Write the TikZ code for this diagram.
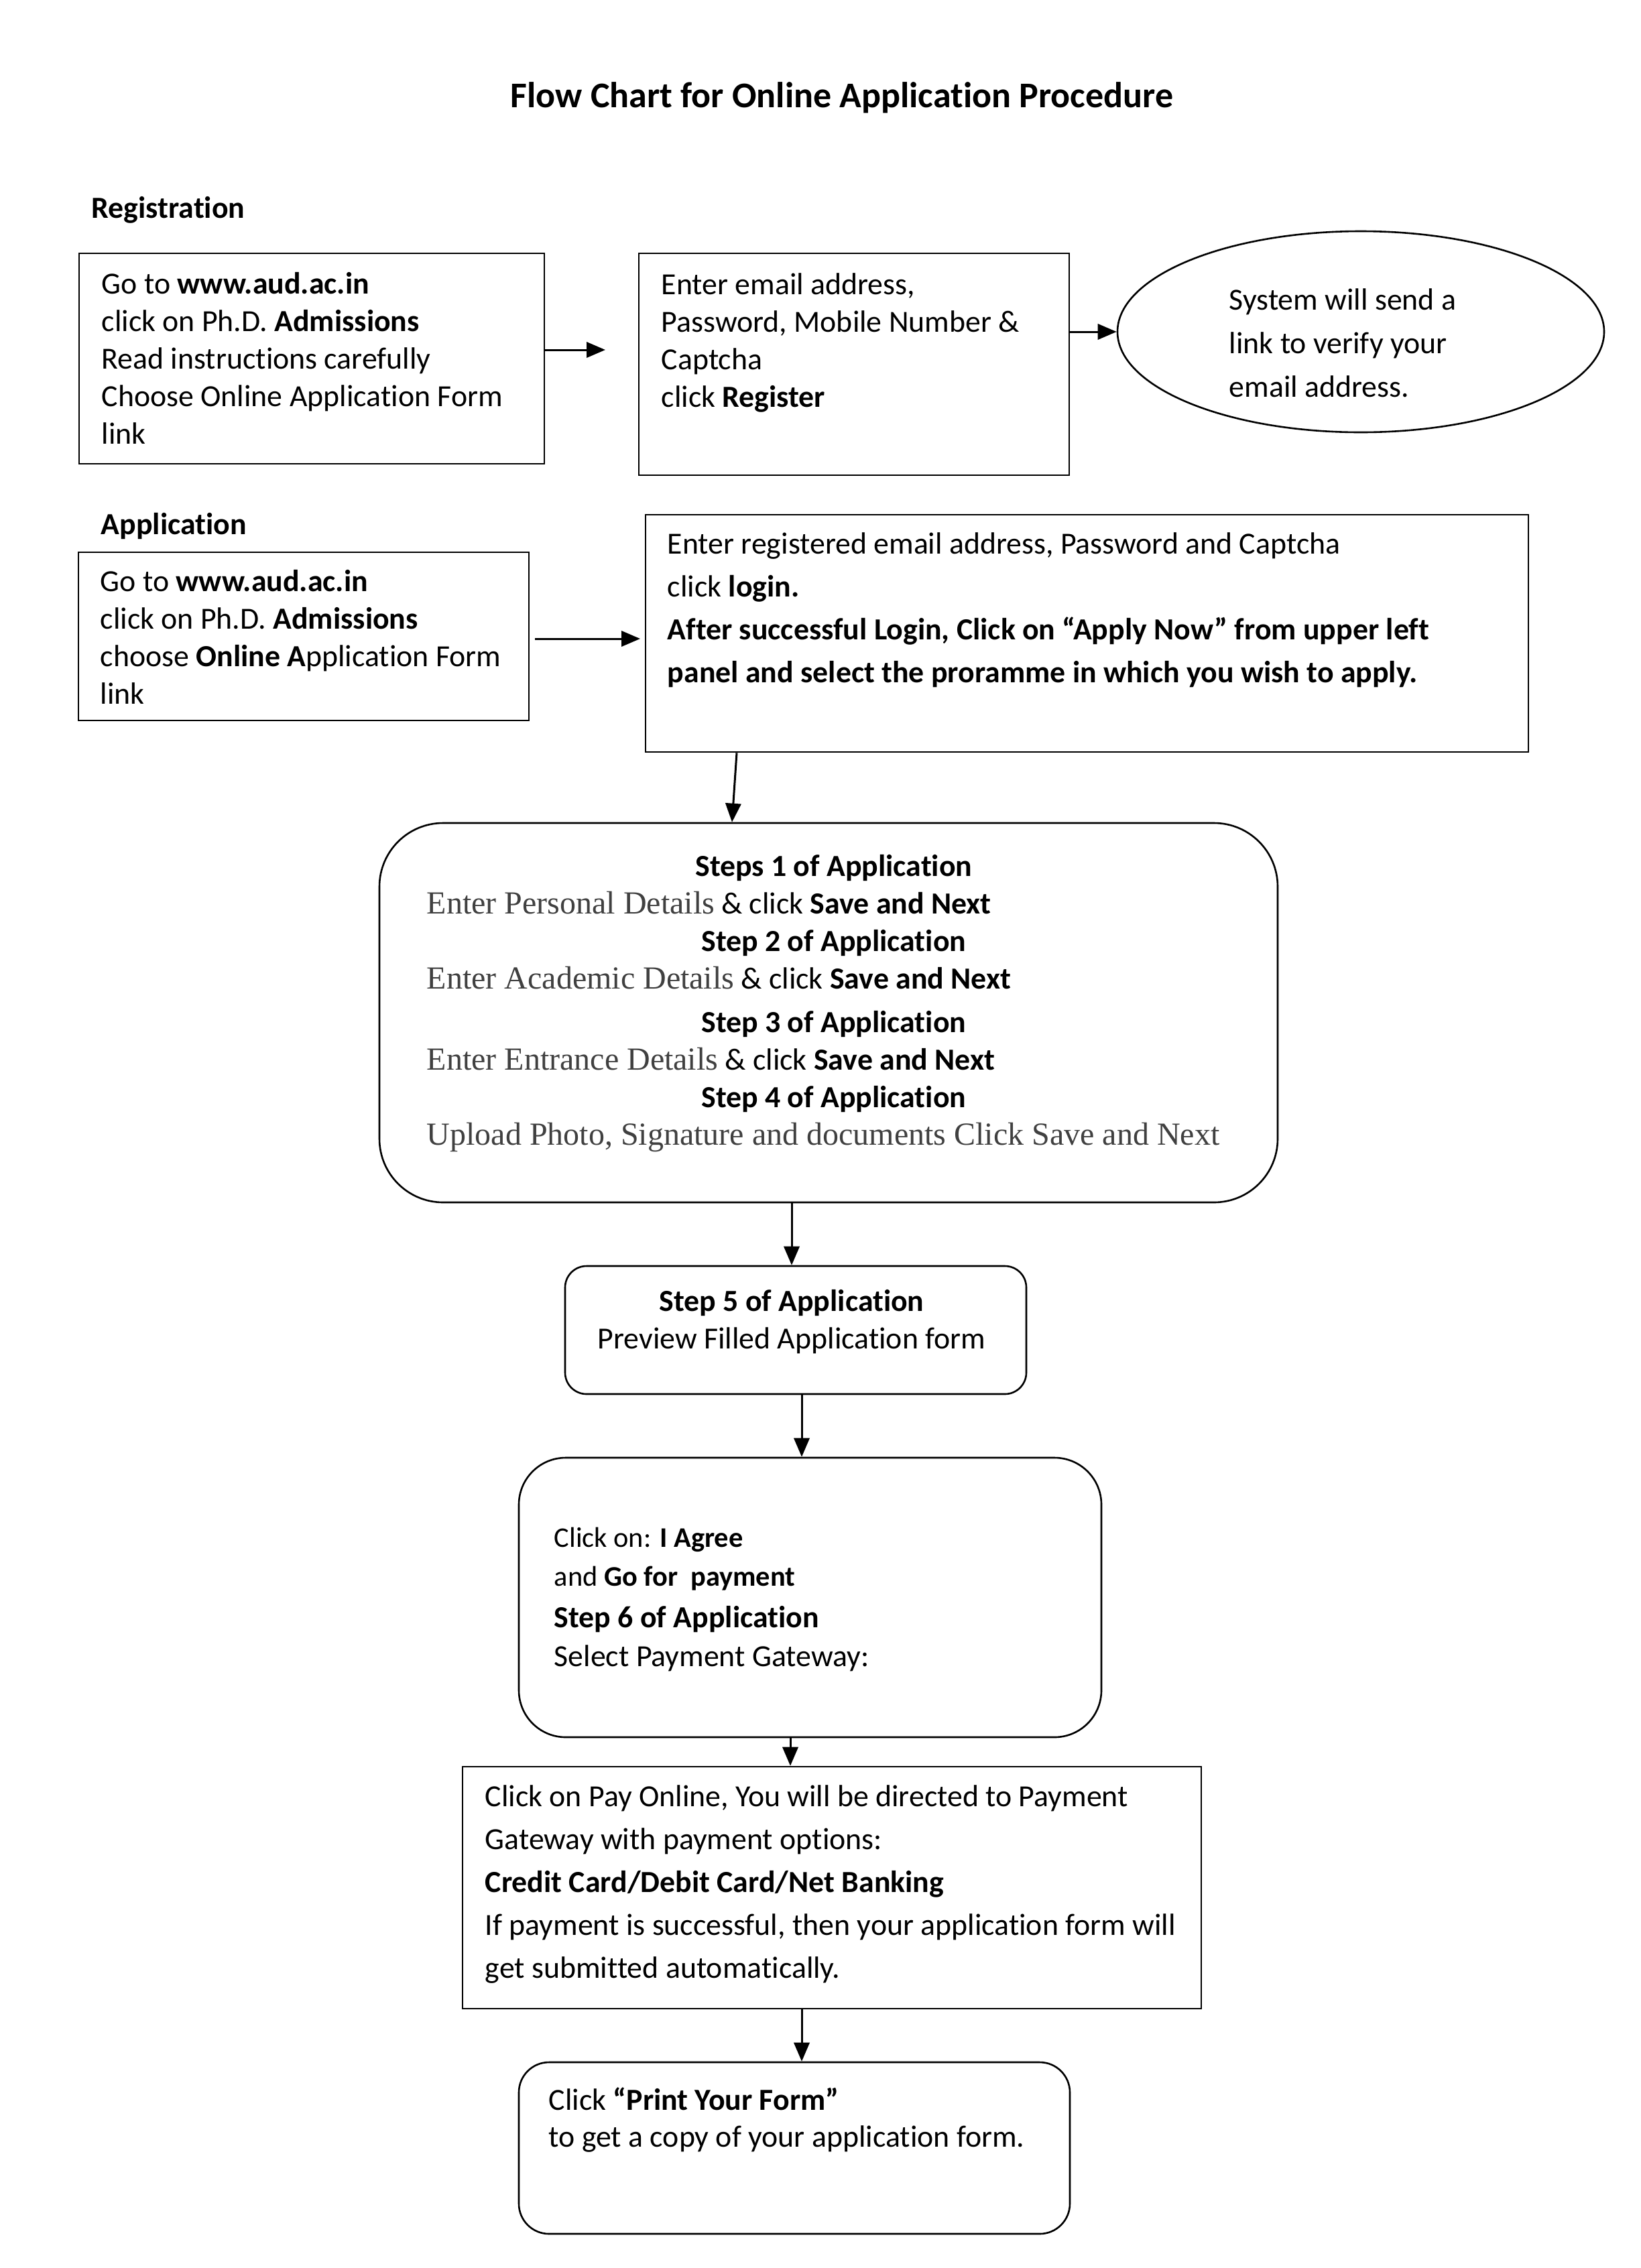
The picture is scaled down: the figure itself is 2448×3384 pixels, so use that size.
\documentclass[tikz,border=0pt]{standalone}
\usepackage{fontspec}
\setmainfont{Carlito}[Ligatures=NoCommon]
\newfontfamily\serifTNR{Liberation Serif}
\usetikzlibrary{arrows.meta,shapes.geometric}
\definecolor{serifgray}{HTML}{404040}
\newcommand\tnrtext[1]{{\serifTNR\fontsize{12}{14}\selectfont\color{serifgray}#1}}
\begin{document}
\begin{tikzpicture}[x=0.25pt,y=-0.25pt,
  box/.style={draw, line width=0.65pt, inner sep=0pt, rectangle},
  rbox/.style={box, rounded corners=#1},
  oval/.style={draw, line width=0.65pt, inner sep=0pt, ellipse},
  arr/.style={line width=0.75pt, -{Triangle[length=7pt,width=5.8pt]}},
  txt/.style={inner sep=0pt, align=left, anchor=base west, font=\fontsize{11.45}{14}\selectfont},
  lbl/.style={inner sep=0pt, anchor=base west, font=\bfseries\fontsize{11.45}{14}\selectfont}]
\fill[white] (0,0) rectangle (2448,3384);
\useasboundingbox (0,0) rectangle (2448,3384);

% title and section labels
\node[inner sep=0pt, anchor=base, font=\bfseries\fontsize{13.5}{16}\selectfont] (title) at (1256,160) {Flow Chart for Online Application Procedure};
\node[lbl] (reglbl) at (136,325) {Registration};
\node[lbl] (applbl) at (150,797) {Application};

% registration row (text anchors are at the baseline of the last line)
\node[box, minimum width=173.5pt, minimum height=78.5pt] (A1) at (465,535) {};
\node[txt] (tA1) at (151,662) {Go to \textbf{www.aud.ac.in}\\click on Ph.D. \textbf{Admissions}\\Read instructions carefully\\Choose Online Application Form\\link};

\node[box, minimum width=160.5pt, minimum height=82.75pt] (A2) at (1274,543.5) {};
\node[txt] (tA2) at (986,607) {Enter email address,\\Password, Mobile Number \&\\Captcha\\click \textbf{Register}};

\node[oval, minimum width=181.5pt, minimum height=75pt] (E) at (2030,495) {};
\node[txt, font=\fontsize{11.45}{16.25}\selectfont] (tE) at (1833,592) {System will send a\\link to verify your\\email address.};

\coordinate (a12) at (903,522);
\draw[arr] (A1.east |- a12) -- (a12);
\draw[arr] (A2.east |- E.west) -- (E.west);

% application row
\node[box, minimum width=168pt, minimum height=62.75pt] (B1) at (453,949.5) {};
\node[txt] (tB1) at (149,1050) {Go to \textbf{www.aud.ac.in}\\click on Ph.D. \textbf{Admissions}\\choose \textbf{Online A}pplication Form\\link};

\node[box, minimum width=329.25pt, minimum height=88.5pt] (B2) at (1621.5,945) {};
\node[txt, font=\fontsize{11.45}{16}\selectfont] (tB2) at (995,1018) {Enter registered email address, Password and Captcha\\click \textbf{login.}\\\textbf{After successful Login, Click on “Apply Now” from upper left}\\\textbf{panel and select the proramme in which you wish to apply.}};

\coordinate (b12) at (955,953);
\draw[arr] ([xshift=2pt]B1.east |- b12) -- (b12);

% steps 1-4
\node[rbox=23.75pt, minimum width=335pt, minimum height=141.5pt] (S) at (1236,1511) {};
\node[txt] (tS) at (636,1708) {\makebox[303.5pt]{\bfseries Steps 1 of Application}\\
\tnrtext{Enter Personal Details} \& click \textbf{Save and Next}\\
\makebox[303.5pt]{\bfseries Step 2 of Application}\\
\tnrtext{Enter Academic Details} \& click \textbf{Save and Next}\\[2.2pt]
\makebox[303.5pt]{\bfseries Step 3 of Application}\\
\tnrtext{Enter Entrance Details} \& click \textbf{Save and Next}\\
\makebox[303.5pt]{\bfseries Step 4 of Application}\\
\tnrtext{Upload Photo, Signature and documents Click Save and Next}};

\draw[arr] (B2.south -| 1099,0) -- (S.north -| 1092,0);

% step 5
\node[rbox=8pt, minimum width=172pt, minimum height=47.75pt] (S5) at (1187,1984.5) {};
\node[txt, align=center, anchor=base] (tS5) at (1181,2012) {\textbf{Step 5 of Application}\\Preview Filled Application form};
\draw[arr] (S.south -| 1181,0) -- (S5.north -| 1181,0);

% step 6
\node[rbox=17.5pt, minimum width=217.25pt, minimum height=104.25pt] (S6) at (1208.5,2383.5) {};
\node[txt, font=\fontsize{10.6}{14.5}\selectfont] (tS6) at (826,2486) {Click on: \textbf{I Agree}\\and \textbf{Go for~ payment}\\[0.8pt]{\fontsize{11.45}{14}\selectfont\textbf{Step 6 of Application}}\\{\fontsize{11.45}{14}\selectfont Select Payment Gateway:}};
\draw[arr] (S5.south -| 1196,0) -- (S6.north -| 1196,0);

% payment
\node[box, minimum width=275.5pt, minimum height=90.25pt] (P) at (1241,2816.5) {};
\node[txt, font=\fontsize{11.45}{16}\selectfont] (tP) at (723,2951) {Click on Pay Online, You will be directed to Payment\\Gateway with payment options:\\\textbf{Credit Card/Debit Card/Net Banking}\\If payment is successful, then your application form will\\get submitted automatically.};
\draw[arr] (S6.south -| 1179,0) -- (P.north -| 1179,0);

% print
\node[rbox=11.25pt, minimum width=205.5pt, minimum height=64pt] (R) at (1185,3205) {};
\node[txt, font=\fontsize{11.45}{13.75}\selectfont] (tR) at (818,3203) {Click \textbf{“Print Your Form”}\\to get a copy of your application form.};
\draw[arr] (P.south -| 1196,0) -- (R.north -| 1196,0);
\end{tikzpicture}
\end{document}
